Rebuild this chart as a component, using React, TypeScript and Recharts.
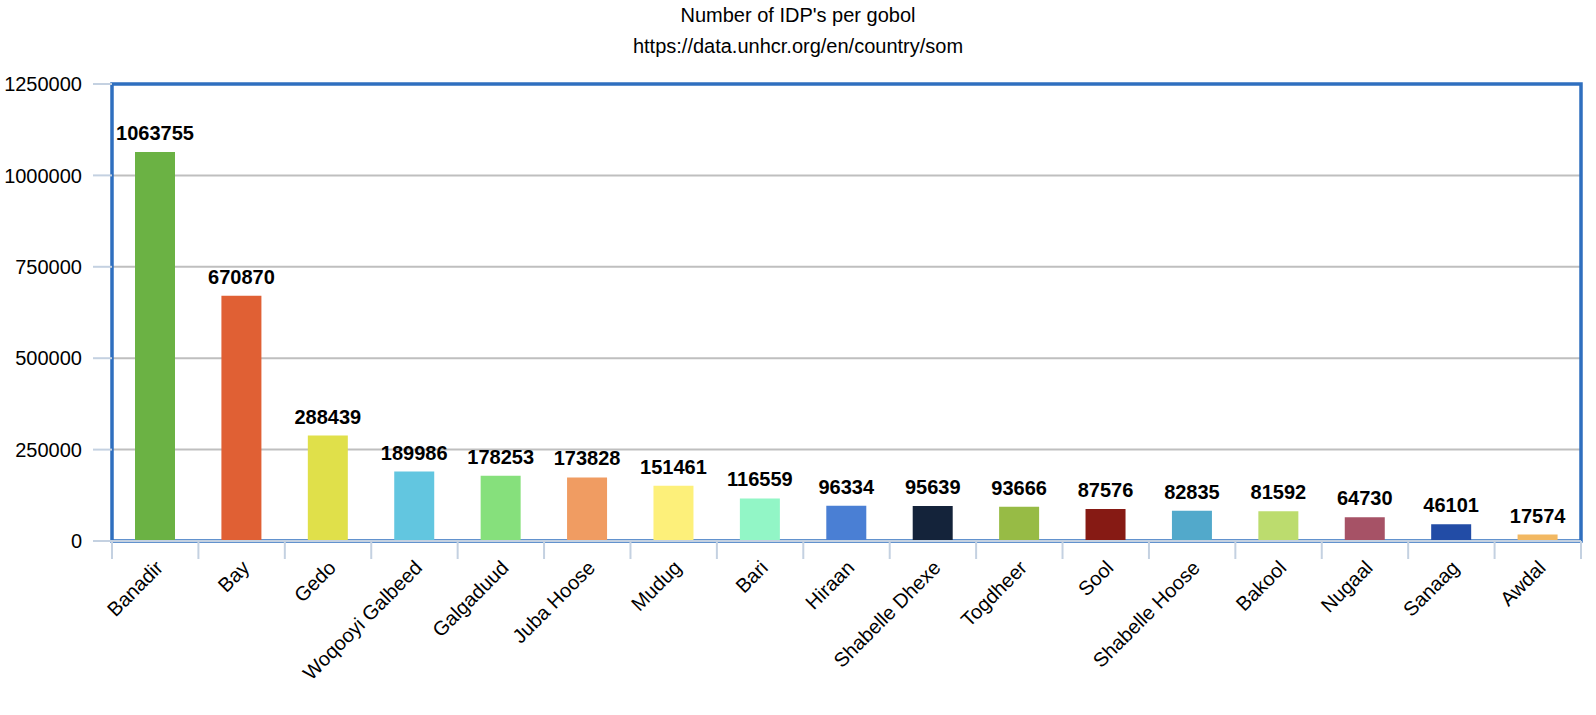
import React from "react";
import {
  BarChart,
  Bar,
  XAxis,
  YAxis,
  CartesianGrid,
  Cell,
  LabelList,
  ReferenceArea,
} from "recharts";

const gobols = [
  "Banadir",
  "Bay",
  "Gedo",
  "Woqooyi Galbeed",
  "Galgaduud",
  "Juba Hoose",
  "Mudug",
  "Bari",
  "Hiraan",
  "Shabelle Dhexe",
  "Togdheer",
  "Sool",
  "Shabelle Hoose",
  "Bakool",
  "Nugaal",
  "Sanaag",
  "Awdal",
];

const idps = [
  1063755, 670870, 288439, 189986, 178253, 173828, 151461, 116559, 96334, 95639,
  93666, 87576, 82835, 81592, 64730, 46101, 17574,
];

const yTicks = [0, 250000, 500000, 750000, 1000000, 1250000];

const palette = [
  "#6bb244",
  "#e06034",
  "#e0e04a",
  "#62c6e0",
  "#86e07c",
  "#f09c62",
  "#fdf07a",
  "#92f6c6",
  "#4a7fd4",
  "#14233a",
  "#97bb45",
  "#861a14",
  "#52a9cb",
  "#bcdc6e",
  "#a65266",
  "#224ca6",
  "#f2b862",
];

const data = gobols.map((name, i) => ({ name, total: idps[i] }));

const FONT = "'Liberation Sans', Arial, sans-serif";
const FS = 20;
const AXIS_COLOR = "#c4d1e1";
const BAND_HALF = (1581 - 112) / gobols.length / 2;

// category ticks sit on the band edges, labels hang off the band centre
const XTick = (props: any) => {
  const { x, y, payload, index } = props;
  const half = payload?.offset || BAND_HALF;
  const isLast = index === gobols.length - 1;
  const tx = x + 9;
  const ty = y + 28;
  return (
    <g>
      <line x1={x - half} x2={x - half} y1={y} y2={y + 18} stroke={AXIS_COLOR} strokeWidth={2} />
      {isLast && (
        <line x1={x + half} x2={x + half} y1={y} y2={y + 18} stroke={AXIS_COLOR} strokeWidth={2} />
      )}
      <text
        x={tx}
        y={ty}
        transform={`rotate(-45 ${tx} ${ty})`}
        textAnchor="end"
        fontSize={FS}
        fontFamily={FONT}
        fill="#000"
      >
        {payload.value}
      </text>
    </g>
  );
};

export default function App() {
  return (
    <div style={{ position: "absolute", left: 0, top: 0, width: 1596, height: 715, background: "#fff", fontFamily: FONT }}>
      <div style={{ position: "absolute", left: 0, width: 1596, top: 4, textAlign: "center", fontSize: FS, color: "#000" }}>
        Number of IDP's per gobol
      </div>
      <div style={{ position: "absolute", left: 0, width: 1596, top: 35, textAlign: "center", fontSize: FS, color: "#000" }}>
        https://data.unhcr.org/en/country/som
      </div>
      <BarChart
        width={1596}
        height={715}
        data={data}
        margin={{ top: 84, right: 15, left: 0, bottom: 0 }}
      >
        <CartesianGrid vertical={false} stroke="#bfbfbf" strokeWidth={2} />
        <XAxis
          dataKey="name"
          interval={0}
          height={174}
          tickSize={0}
          tickMargin={0}
          tickLine={false}
          axisLine={{ stroke: AXIS_COLOR, strokeWidth: 2 }}
          tick={<XTick />}
        />
        <YAxis
          width={112}
          domain={[0, 1250000]}
          ticks={yTicks}
          interval={0}
          axisLine={false}
          tickLine={{ stroke: AXIS_COLOR, strokeWidth: 2 }}
          tickSize={19}
          tickMargin={11}
          tick={{ fontSize: FS, fontFamily: FONT, fill: "#000" }}
        />
        <Bar dataKey="total" barSize={40} isAnimationActive={false}>
          {data.map((d, i) => (
            <Cell key={d.name} fill={palette[i]} />
          ))}
          <LabelList
            dataKey="total"
            position="top"
            offset={12}
            style={{ fontSize: FS, fontWeight: "bold", fontFamily: FONT, fill: "#000" }}
          />
        </Bar>
        <ReferenceArea
          x1={gobols[0]}
          x2={gobols[gobols.length - 1]}
          y1={0}
          y2={1250000}
          fill="none"
          fillOpacity={0}
          stroke="#2f6fbf"
          strokeWidth={3.5}
          ifOverflow="visible"
        />
      </BarChart>
    </div>
  );
}
